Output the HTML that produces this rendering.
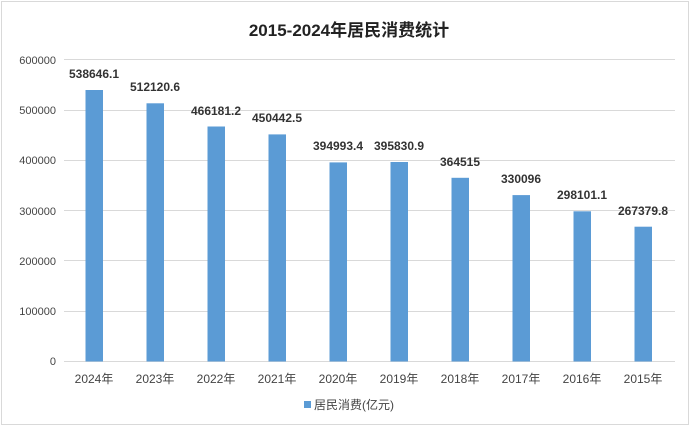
<!DOCTYPE html><html><head><meta charset="utf-8"><style>body{margin:0;background:#fff}svg{display:block}text{font-family:"Liberation Sans","Noto Sans CJK SC",sans-serif}</style></head><body>
<svg width="698" height="433" viewBox="0 0 698 433">
<rect x="1.5" y="1.5" width="687" height="423" fill="#fff" stroke="#d9d9d9"/>
<text x="349" y="36" text-anchor="middle" font-size="17" font-weight="bold" fill="#222">2015-2024年居民消费统计</text>
<g stroke="#d9d9d9" stroke-width="1">
<line x1="64" x2="675" y1="59.5" y2="59.5"/><line x1="64" x2="675" y1="110.5" y2="110.5"/><line x1="64" x2="675" y1="160.5" y2="160.5"/><line x1="64" x2="675" y1="210.5" y2="210.5"/><line x1="64" x2="675" y1="260.5" y2="260.5"/><line x1="64" x2="675" y1="311.5" y2="311.5"/><line x1="64" x2="675" y1="361.5" y2="361.5"/>
</g>
<g font-size="11" fill="#444" text-anchor="end">
<text x="56" y="64">600000</text><text x="56" y="114">500000</text><text x="56" y="164">400000</text><text x="56" y="215">300000</text><text x="56" y="265">200000</text><text x="56" y="315">100000</text><text x="56" y="365">0</text>
</g>
<g fill="#5b9bd5">
<rect x="85.5" y="90" width="17.5" height="271.5"/>
<rect x="146.5" y="103.3" width="17.5" height="258.2"/>
<rect x="207.5" y="126.5" width="17.5" height="235"/>
<rect x="268.5" y="134.4" width="17.5" height="227.1"/>
<rect x="329.5" y="162.4" width="17.5" height="199.1"/>
<rect x="390.5" y="162" width="17.5" height="199.5"/>
<rect x="451.5" y="177.8" width="17.5" height="183.7"/>
<rect x="512.5" y="195.1" width="17.5" height="166.4"/>
<rect x="573.5" y="211.3" width="17.5" height="150.2"/>
<rect x="634.5" y="226.7" width="17.5" height="134.8"/>
</g>
<g font-size="12" font-weight="bold" fill="#333" text-anchor="middle">
<text x="94" y="78">538646.1</text><text x="155" y="91">512120.6</text><text x="216" y="115">466181.2</text><text x="277" y="122">450442.5</text><text x="338" y="150">394993.4</text><text x="399" y="150">395830.9</text><text x="460" y="166">364515</text><text x="521" y="183">330096</text><text x="582" y="199">298101.1</text><text x="643" y="215">267379.8</text>
</g>
<g font-size="12" fill="#444" text-anchor="middle">
<text x="94" y="383">2024年</text><text x="155" y="383">2023年</text><text x="216" y="383">2022年</text><text x="277" y="383">2021年</text><text x="338" y="383">2020年</text><text x="399" y="383">2019年</text><text x="460" y="383">2018年</text><text x="521" y="383">2017年</text><text x="582" y="383">2016年</text><text x="643" y="383">2015年</text>
</g>
<rect x="304" y="401" width="7" height="7" fill="#5b9bd5"/>
<text x="314" y="409" font-size="12" fill="#444">居民消费(亿元)</text>
</svg></body></html>
